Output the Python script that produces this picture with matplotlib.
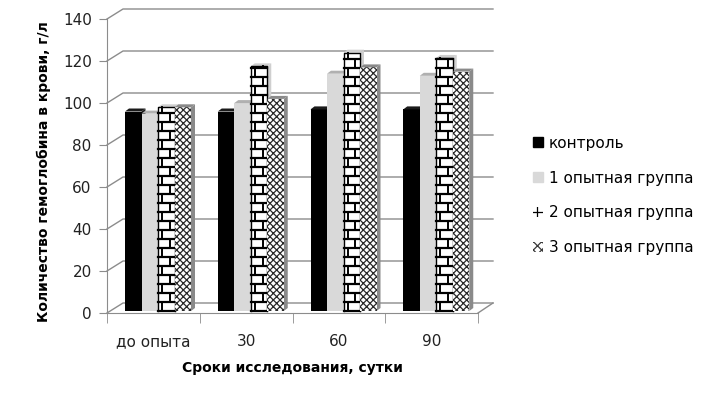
import numpy as np
import matplotlib
matplotlib.use("Agg")
import matplotlib.pyplot as plt
from matplotlib.patches import Patch, Polygon

# data
categories = ["до опыта", "30", "60", "90"]
series_names = ["контроль", "1 опытная группа", "2 опытная группа", "3 опытная группа"]
control = [95, 95, 96, 96]
group1 = [94, 99, 113, 112]
group2 = [97, 116.5, 123, 120.5]
group3 = [97, 101, 116, 114]
yticks = [0, 20, 40, 60, 80, 100, 120, 140]

values = [control, group1, group2, group3]

W, H = 714, 396
fig = plt.figure(figsize=(W / 100, H / 100), dpi=100)
# front plane of the pseudo-3d box, in pixels: x 107..478, y 313 (0) .. 19 (140)
ax = fig.add_axes([107 / W, 1 - 313 / H, 371 / W, 294 / H])
ax.set_xlim(0, 4)
ax.set_ylim(0, 140)

ux = 371 / 4      # px per category
uy = 294 / 140    # px per unit of value
grid_col = "#8c8c8c"

# back wall shift
bdx, bdy = 16 / ux, 10 / uy
back_right = (493 - 107) / ux
for v in yticks:
    ax.plot([0, bdx, back_right], [v, v + bdy, v + bdy], color=grid_col, lw=1.0,
            clip_on=False, zorder=1)
# floor right edge
ax.plot([4, back_right], [0, bdy], color=grid_col, lw=1.0, clip_on=False, zorder=1)

# bars
bar_w = 16.5 / ux
first = 18 / ux
base = 0.95
tdx, tdy = 4 / ux, 3 / uy
faces = ["black", "#d9d9d9", "white", "white"]
edges = ["black", "#d9d9d9", "white", "#2a2a2a"]
hatches = [None, None, None, "xxxxx"]
tops = ["#1a1a1a", "#b0b0b0", "#cfcfcf", "#8a8a8a"]

plt.rcParams["hatch.linewidth"] = 0.9

for i in range(len(categories)):
    for j, vals in enumerate(values):
        x0 = i + first + j * bar_w
        h = vals[i]
        z = 3 + j
        rect = ax.bar(x0, h, width=bar_w, bottom=base, align="edge",
                      color=faces[j], edgecolor=edges[j], hatch=hatches[j],
                      linewidth=0, zorder=z, clip_on=False)[0]
        y1 = base + h
        top = Polygon([(x0, y1), (x0 + bar_w, y1), (x0 + bar_w + tdx, y1 + tdy),
                       (x0 + tdx, y1 + tdy)], closed=True, facecolor=tops[j],
                      edgecolor="none", zorder=z, clip_on=False)
        ax.add_patch(top)
        side = Polygon([(x0 + bar_w, base), (x0 + bar_w, y1), (x0 + bar_w + tdx, y1 + tdy),
                        (x0 + bar_w + tdx, base + tdy)], closed=True, facecolor=tops[j],
                       edgecolor="none", zorder=z - 0.5, clip_on=False)
        ax.add_patch(side)
        if j == 2:
            # brick pattern
            step = 9.0 / uy
            rows = np.arange(base, y1, step)
            for k, ry in enumerate(rows):
                ax.plot([x0, x0 + bar_w], [ry, ry], color="black", lw=1.6,
                        zorder=z + 0.1, clip_on=False)
                xv = x0 + bar_w * (0.25 if k % 2 == 0 else 0.72)
                ax.plot([xv, xv], [ry, min(ry + step, y1)], color="black", lw=1.4,
                        zorder=z + 0.1, clip_on=False)
            ax.plot([x0, x0, x0 + bar_w, x0 + bar_w], [base, y1, y1, base],
                    color="black", lw=1.0, zorder=z + 0.1, clip_on=False)

# axes styling
for s in ["top", "right"]:
    ax.spines[s].set_visible(False)
ax.spines["left"].set_color(grid_col)
ax.spines["bottom"].set_color(grid_col)
ax.set_yticks(yticks)
ax.set_yticklabels([str(v) for v in yticks], fontsize=11, color="#222222")
ax.tick_params(axis="y", length=6, color=grid_col, pad=5)
ax.set_xticks(np.arange(len(categories)) + 0.5)
ax.set_xticklabels(categories, fontsize=11, color="#222222")
ax.set_xticks(np.arange(len(categories) + 1), minor=True)
ax.tick_params(axis="x", which="major", length=0, pad=15)
ax.tick_params(axis="x", which="minor", length=7, color=grid_col)
ax.patch.set_visible(False)

ax.set_ylabel("Количество гемоглобина в крови, г/л", fontsize=10, fontweight="bold")
ax.yaxis.set_label_coords(-56 / 371, 0.48)
ax.set_xlabel("Сроки исследования, сутки", fontsize=10, fontweight="bold")
ax.xaxis.set_label_coords(0.5, -48 / 294)

handles = [
    Patch(facecolor="black", edgecolor="black"),
    Patch(facecolor="#d9d9d9", edgecolor="#d9d9d9"),
    Patch(facecolor="white", edgecolor="black", hatch="++", linewidth=0),
    Patch(facecolor="white", edgecolor="#3a3a3a", hatch="xxxx", linewidth=0),
]
fig.legend(handles, series_names, loc="upper left", bbox_to_anchor=(519 / W, 1 - 122 / H),
           frameon=False, fontsize=11, handlelength=0.65, handleheight=0.65,
           handletextpad=0.4, labelspacing=1.3)

fig.savefig("out.png", dpi=100)
